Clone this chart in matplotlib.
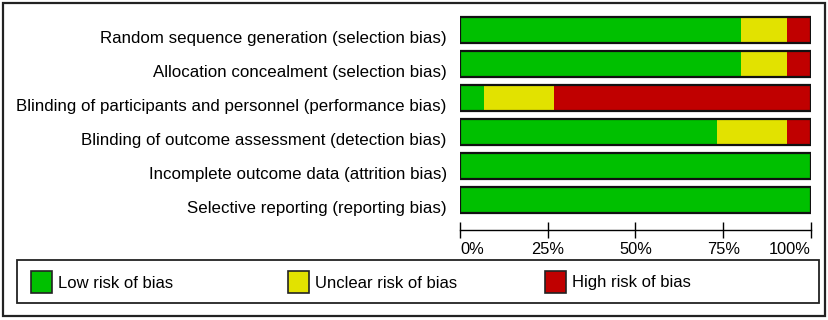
import matplotlib
matplotlib.use("Agg")
import matplotlib.pyplot as plt
from matplotlib.patches import Rectangle
import numpy as np

plt.rcParams['font.family'] = ['Liberation Sans', 'DejaVu Sans']

categories = [
    "Random sequence generation (selection bias)",
    "Allocation concealment (selection bias)",
    "Blinding of participants and personnel (performance bias)",
    "Blinding of outcome assessment (detection bias)",
    "Incomplete outcome data (attrition bias)",
    "Selective reporting (reporting bias)",
]
low = [80.0, 80.0, 6.7, 73.3, 100.0, 100.0]
unclear = [13.3, 13.3, 20.0, 20.0, 0.0, 0.0]
high = [6.7, 6.7, 73.3, 6.7, 0.0, 0.0]
legend_labels = ["Low risk of bias", "Unclear risk of bias", "High risk of bias"]
colors = ["#00C000", "#E2E200", "#C00000"]
xticks = [0, 25, 50, 75, 100]
xticklabels = ["0%", "25%", "50%", "75%", "100%"]

W, H = 829, 320
fig = plt.figure(figsize=(W / 100, H / 100), dpi=100)
fs_lab = 12.2
fs_tick = 11.8
fs_leg = 12.0

def fx(px):
    return px / W

def fy(py):
    return (H - py) / H

# main axes: pixel x 460..811, y 10..240
ax = fig.add_axes([fx(460), fy(240), fx(811) - fx(460), (240 - 10) / H])
pitch = 34.0
ax.set_xlim(0, 100)
ax.set_ylim(210 / pitch, -20 / pitch)
ax.patch.set_visible(False)

y = np.arange(len(categories))
bh = 26 / pitch
lefts = np.zeros(len(categories))
for vals, c in zip([low, unclear, high], colors):
    vals = np.array(vals)
    ax.barh(y, vals, left=lefts, height=bh, color=c, edgecolor='none', zorder=2)
    lefts = lefts + vals
ax.barh(y, lefts, left=0, height=bh, fill=False, edgecolor='#111111', linewidth=1.6, zorder=3)

for s in ['top', 'right', 'left']:
    ax.spines[s].set_visible(False)
ax.spines['bottom'].set_position(('data', 200 / pitch))
ax.spines['bottom'].set_linewidth(1.0)
ax.set_xticks(xticks)
ax.set_xticklabels(xticklabels, fontsize=fs_tick)
ax.tick_params(axis='x', direction='inout', length=11, width=1.0, pad=3)
labs = ax.get_xticklabels()
labs[0].set_horizontalalignment('left')
labs[-1].set_horizontalalignment('right')

ax.set_yticks(y + bh / 2)
ax.set_yticklabels(categories, fontsize=fs_lab)
ax.tick_params(axis='y', length=0, pad=9.5)
for t in ax.get_yticklabels():
    t.set_verticalalignment('baseline')

# outer border
fig.patches.append(Rectangle((fx(3), fy(316)), fx(825) - fx(3), (316 - 3) / H,
                             transform=fig.transFigure, fill=False,
                             edgecolor='#222222', linewidth=1.6))
# legend box
fig.patches.append(Rectangle((fx(17), fy(303)), fx(819) - fx(17), (303 - 260) / H,
                             transform=fig.transFigure, fill=False,
                             edgecolor='#222222', linewidth=1.3))
leg_x = [31, 288, 545]
for lx, lab, c in zip(leg_x, legend_labels, colors):
    fig.patches.append(Rectangle((fx(lx), fy(293)), fx(21), 22 / H,
                                 transform=fig.transFigure, facecolor=c,
                                 edgecolor='#222222', linewidth=1.2))
    fig.text(fx(lx + 27), fy(283), lab, fontsize=fs_leg, va='center', ha='left')

fig.savefig("out.png", dpi=100)
